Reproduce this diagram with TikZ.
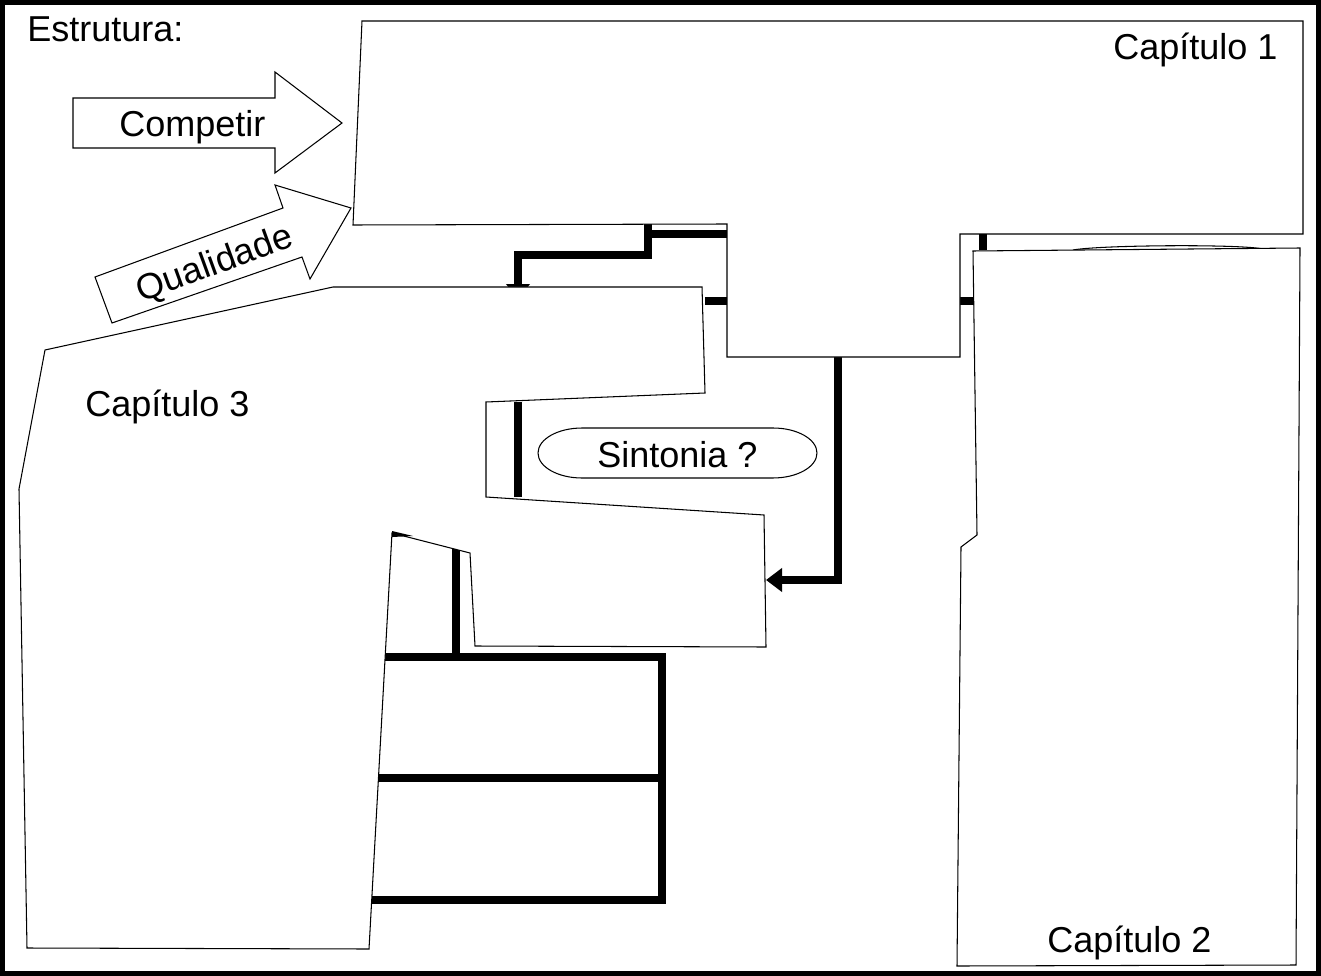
\documentclass[tikz,border=0pt]{standalone}
\usepackage{fontspec}
\setmainfont{Liberation Sans}
\usetikzlibrary{arrows.meta, positioning}

\begin{document}
\begin{tikzpicture}[x=0.02cm, y=-0.02cm,
        chapter/.style={draw, fill=white, line width=0.6pt},
        bigarrow/.style={draw, fill=white, line width=0.6pt},
        link/.style={line width=1.5mm},
        linkarrow/.style={link, -{Triangle[length=3.2mm, width=4.6mm]}},
        label/.style={inner sep=0pt, anchor=base west, font=\fontsize{20.5}{24}\selectfont},
    ]
    \useasboundingbox (0,0) rectangle (1321,976);
    \draw[line width=1mm] (2.5,2.5) rectangle (1318.5,973.5);

    % end points of the links
    \coordinate (ch1b) at (648,224);
    \coordinate (ch3t) at (518,300);
    \coordinate (notchbl) at (727,234);
    \coordinate (notchl) at (727,301);
    \coordinate (notchr) at (960,301);
    \coordinate (notchb) at (838,357);
    \coordinate (ch3r) at (705,301);
    \coordinate (ch2l) at (973,301);
    \coordinate (ch2t) at (983,250);
    \coordinate (ch1r) at (983,234);
    \coordinate (midr) at (766,580);
    \coordinate (gapt) at (518,402);
    \coordinate (gapb) at (518,497);
    \coordinate (stept) at (456,549);
    \coordinate (stepb) at (456,661);
    \coordinate (rowa) at (385,657);
    \coordinate (rowb) at (378,778);
    \coordinate (rowc) at (372,900);
    \coordinate (rail) at (662,900);

    \draw[linkarrow] (ch1b) |- (518,255) -- (ch3t);
    \draw[link] (notchbl) -- (648,234);
    \draw[link] (ch3r) -- (notchl);
    \draw[link] (notchr) -- (ch2l);
    \draw[link] (ch1r) -- (ch2t);
    \draw[linkarrow] (notchb) |- (midr);
    \draw[link] (gapt) -- (gapb);
    \draw[link] (stept) -- (stepb);
    \draw[link] (rowa) -| (rail) -- (rowc);
    \draw[link] (rowb) -- (rowb -| rail);

    % chapters
    \draw[chapter] (362,21) -- (1303,21) -- (1303,234) -- (960,234) -- (960,357)
        -- (727,357) -- (727,224) -- (353,225) -- cycle;
    \draw[line width=0.6pt] (1073,250) .. controls (1100,245) and (1240,244) .. (1263,249);
    \draw[chapter] (973,251) -- (1300,248) -- (1296,965) -- (957,966) -- (961,547)
        -- (977,535) -- cycle;
    \draw[chapter] (333,287) -- (702,287) -- (705,393) -- (486,402) -- (486,497)
        -- (764,515) -- (766,647) -- (475,646) -- (470,553) -- (392,533)
        -- (369,949) -- (27,948) -- (19,489) -- (45,350) -- cycle;
    \fill (392,531) -- (413,536) -- (392,537) -- cycle;

    % block arrows
    \draw[bigarrow] (73,98) -- (275,98) -- (275,72) -- (342,123) -- (275,173)
        -- (275,148) -- (73,148) -- cycle;
    \draw[bigarrow] (351,208) -- (275,185) -- (283,208) -- (95,277) -- (112,323)
        -- (302,257) -- (310,279) -- cycle;

    % question in the gap
    \draw[chapter] (582,428) -- (773,428) arc[start angle=90, end angle=-90, x radius=0.88cm, y radius=0.5cm]
        -- (582,478) arc[start angle=270, end angle=90, x radius=0.88cm, y radius=0.5cm] -- cycle;

    \node[label] (estrutura) at (27,42) {Estrutura:};
    \node[label] (competir) at (119,137) {Competir};
    \node[label, anchor=center, rotate=20] (qualidade) at (215,265) {Qualidade};
    \node[label] (cap1) at (1113,60) {Capítulo 1};
    \node[label] (cap3) at (85,416) {Capítulo 3};
    \node[label] (cap2) at (1047,952) {Capítulo 2};
    \node[label] (sintonia) at (597,467) {Sintonia ?};
\end{tikzpicture}
\end{document}
